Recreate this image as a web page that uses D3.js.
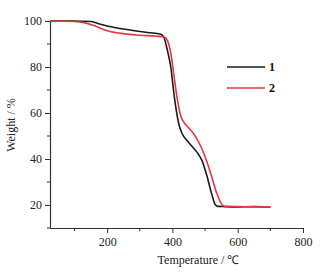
<!DOCTYPE html>
<html>
<head>
<meta charset="utf-8">
<script src="https://cdn.jsdelivr.net/npm/d3@7"></script>
<style>
  body { margin: 0; background: #fff; }
  text { font-family: "Liberation Serif", "Times New Roman", serif; }
</style>
</head>
<body>
<div id="chart"></div>
<script>
// sample 1 (black)
var temp1 = [26, 100, 150, 170, 200, 250, 300, 340, 365, 375, 385, 395, 405, 412, 420, 430, 445, 460, 475, 490, 505, 520, 532, 540, 560, 600, 650, 700];
var weight1 = [100, 100, 99.8, 99, 97.8, 96.5, 95.4, 94.8, 94.2, 92.5, 87, 80, 68, 61, 55, 51, 48, 45.5, 43, 39.5, 33, 25, 20, 19.4, 19.3, 19.2, 19.3, 19.2];
// sample 2 (red)
var temp2 = [26, 100, 130, 160, 200, 250, 300, 350, 375, 385, 395, 405, 415, 425, 435, 450, 465, 480, 496, 510, 521, 535, 550, 560, 600, 650, 700];
var weight2 = [100, 99.8, 99.3, 98, 95.8, 94.5, 93.8, 93.4, 93, 91.5, 86, 76, 66, 59, 56, 53.5, 51, 47.5, 42.5, 37, 32, 25.5, 20.5, 19.4, 19.3, 19.2, 19.2];

var seriesNames = ["1", "2"];
var seriesColors = ["#1a1a1a", "#e03a40"];
var xTicks = [200, 400, 600, 800];
var xMinor = [100, 300, 500, 700];
var yTicks = [20, 40, 60, 80, 100];
var yMinor = [10, 30, 50, 70, 90];

var width = 332, height = 273;
var margin = {top: 21, right: 29, bottom: 45, left: 50};

var svg = d3.select("#chart").append("svg")
    .attr("width", width)
    .attr("height", height);

var x = d3.scaleLinear()
    .domain([25, 800])
    .range([margin.left, width - margin.right]);

var y = d3.scaleLinear()
    .domain([10, 100])
    .range([height - margin.bottom, margin.top]);

var axisColor = "#333";

// x axis
var gx = svg.append("g")
    .attr("transform", "translate(0," + (height - margin.bottom) + ")")
    .call(d3.axisBottom(x).tickValues(xTicks).tickSize(5).tickPadding(4).tickSizeOuter(0));
gx.append("g").selectAll("line")
    .data(xMinor)
    .enter().append("line")
    .attr("x1", function(d) { return x(d); })
    .attr("x2", function(d) { return x(d); })
    .attr("y1", 0).attr("y2", 3)
    .attr("stroke", axisColor);

// y axis
var gy = svg.append("g")
    .attr("transform", "translate(" + margin.left + ",0)")
    .call(d3.axisLeft(y).tickValues(yTicks).tickSize(5).tickPadding(3).tickSizeOuter(0));
gy.append("g").selectAll("line")
    .data(yMinor)
    .enter().append("line")
    .attr("y1", function(d) { return y(d); })
    .attr("y2", function(d) { return y(d); })
    .attr("x1", 0).attr("x2", -3)
    .attr("stroke", axisColor);

svg.selectAll(".domain").attr("stroke", axisColor).attr("stroke-width", 1.2);
svg.selectAll(".tick line").attr("stroke", axisColor);
svg.selectAll(".tick text")
    .attr("fill", "#222")
    .style("font-family", "'Liberation Serif', serif")
    .style("font-size", "12px");

// curves
var line = d3.line()
    .x(function(d) { return x(d[0]); })
    .y(function(d) { return y(d[1]); })
    .curve(d3.curveMonotoneX);

var data1 = d3.zip(temp1, weight1);
var data2 = d3.zip(temp2, weight2);

svg.append("path")
    .datum(data1)
    .attr("fill", "none")
    .attr("stroke", seriesColors[0])
    .attr("stroke-width", 1.6)
    .attr("d", line);

svg.append("path")
    .datum(data2)
    .attr("fill", "none")
    .attr("stroke", seriesColors[1])
    .attr("stroke-width", 1.6)
    .attr("d", line);

// legend
var legend = svg.append("g").attr("transform", "translate(227,67)");
seriesNames.forEach(function(name, i) {
  legend.append("line")
      .attr("x1", 0).attr("x2", 38)
      .attr("y1", i * 21).attr("y2", i * 21)
      .attr("stroke", seriesColors[i])
      .attr("stroke-width", 1.6);
  legend.append("text")
      .attr("x", 42)
      .attr("y", i * 21 + 4)
      .attr("font-size", "12px")
      .attr("font-weight", "bold")
      .attr("fill", "#111")
      .text(name);
});

// axis titles
svg.append("text")
    .attr("x", (x(25) + x(800)) / 2 + 22)
    .attr("y", 264)
    .attr("text-anchor", "middle")
    .attr("font-size", "12px")
    .attr("fill", "#222")
    .text("Temperature / ℃");

svg.append("text")
    .attr("transform", "translate(15," + 125 + ") rotate(-90)")
    .attr("text-anchor", "middle")
    .attr("font-size", "12px")
    .attr("fill", "#222")
    .text("Weight / %");
</script>
</body>
</html>
